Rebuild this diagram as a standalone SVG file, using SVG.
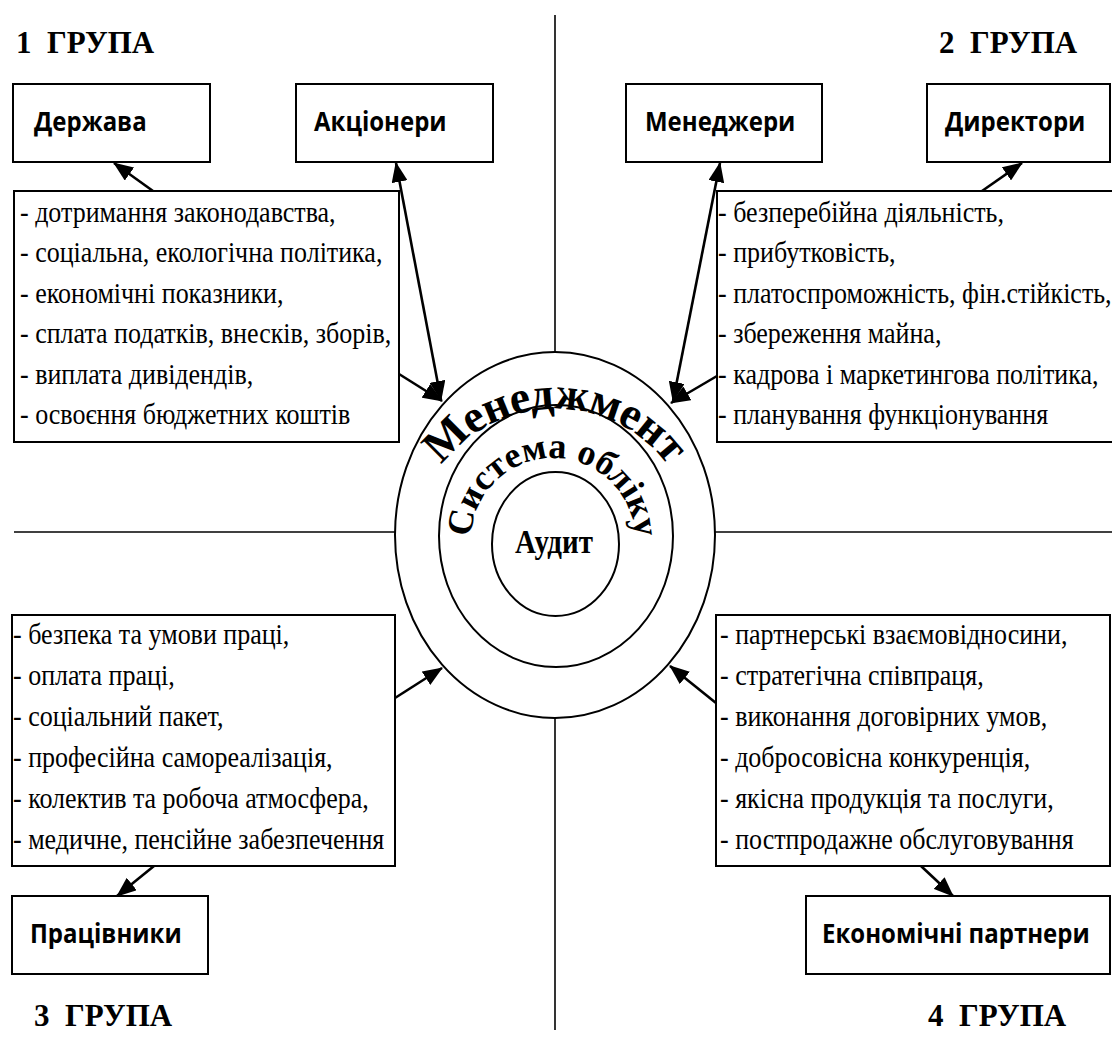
<svg xmlns="http://www.w3.org/2000/svg" width="1112" height="1039" viewBox="0 0 1112 1039">
  <defs>
    <style>
      .box { fill: #fff; stroke: #000; stroke-width: 2; }
      .ring { fill: none; stroke: #000; stroke-width: 2; }
      .axis { stroke: #000; stroke-width: 1.6; fill: none; }
      .arr { stroke: #000; stroke-width: 2.6; fill: none; marker-end: url(#ah); }
      .arr2 { marker-start: url(#ah); }
      .lbl { font-family: "Open Sans", "Liberation Sans", sans-serif; font-weight: 700; font-size: 24px; fill: #000; }
      .lst { font-family: "Liberation Serif", "Times New Roman", serif; font-size: 26px; fill: #000; }
      .grp { font-family: "Liberation Serif", "Times New Roman", serif; font-weight: 700; font-size: 31px; fill: #000; }
      .arc { font-family: "Liberation Serif", "Times New Roman", serif; font-weight: 700; fill: #000; }
    </style>
    <marker id="ah" viewBox="0 0 20 16" refX="19" refY="8" markerWidth="20" markerHeight="16" markerUnits="userSpaceOnUse" orient="auto-start-reverse">
      <path d="M0,0 L20,8 L0,16 z" fill="#000"/>
    </marker>
    <path id="arcOuter" d="M427.2,580.8 A136,128 0 1 1 682.8,580.8"/>
    <path id="arcInner" d="M475.9,568 A82,82 0 1 1 630.1,568"/>
  </defs>

  <rect width="1112" height="1039" fill="#fff"/>

  <!-- quadrant dividers -->
  <g id="axes">
    <line class="axis" x1="555" y1="15" x2="555" y2="1030"/>
    <line class="axis" x1="14" y1="532" x2="1112" y2="532"/>
  </g>

  <!-- nested rings in the centre -->
  <g id="core">
    <ellipse cx="555" cy="535" rx="160" ry="183" fill="#fff" stroke="#000" stroke-width="2"/>
    <ellipse class="ring" cx="556" cy="536" rx="117" ry="131"/>
    <ellipse class="ring" cx="555.5" cy="544" rx="63.5" ry="72"/>
    <text class="arc" font-size="46"><textPath href="#arcOuter" startOffset="50%" text-anchor="middle" textLength="262" lengthAdjust="spacing">Менеджмент</textPath></text>
    <text class="arc" font-size="36"><textPath href="#arcInner" startOffset="50%" text-anchor="middle" textLength="252" lengthAdjust="spacing">Система обліку</textPath></text>
    <text class="arc" font-size="29" text-anchor="middle" transform="translate(554,553) scale(1,1.15)">Аудит</text>
  </g>

  <!-- group headings -->
  <g id="headings">
    <text class="grp" x="16" y="53" xml:space="preserve">1  ГРУПА</text>
    <text class="grp" x="939" y="53" xml:space="preserve">2  ГРУПА</text>
    <text class="grp" x="34" y="1026" xml:space="preserve">3  ГРУПА</text>
    <text class="grp" x="928" y="1026" xml:space="preserve">4  ГРУПА</text>
  </g>

  <!-- group 1 -->
  <g id="derzhava">
    <rect class="box" x="13" y="84" width="197" height="78"/>
    <text class="lbl" transform="translate(34,131) scale(1,1.12)">Держава</text>
  </g>
  <g id="aktsionery">
    <rect class="box" x="296" y="84" width="197" height="78"/>
    <text class="lbl" transform="translate(314,131) scale(1,1.12)">Акціонери</text>
  </g>
  <g id="list1">
    <rect class="box" x="14" y="191" width="385" height="251"/>
    <text class="lst" transform="translate(20,222) scale(1,1.15)">
      <tspan x="0" y="0">- дотримання законодавства,</tspan>
      <tspan x="0" y="35.2">- соціальна, екологічна політика,</tspan>
      <tspan x="0" y="70.4">- економічні показники,</tspan>
      <tspan x="0" y="105.6">- сплата податків, внесків, зборів,</tspan>
      <tspan x="0" y="140.8">- виплата дивідендів,</tspan>
      <tspan x="0" y="176">- освоєння бюджетних коштів</tspan>
    </text>
  </g>

  <!-- group 2 -->
  <g id="menedzhery">
    <rect class="box" x="626" y="84" width="196" height="78"/>
    <text class="lbl" transform="translate(645,131) scale(1,1.12)">Менеджери</text>
  </g>
  <g id="dyrektory">
    <rect class="box" x="927" y="84" width="183" height="78"/>
    <text class="lbl" transform="translate(945,131) scale(1,1.12)">Директори</text>
  </g>
  <g id="list2">
    <rect class="box" x="717" y="191" width="410" height="251"/>
    <text class="lst" transform="translate(718,222) scale(1,1.15)">
      <tspan x="0" y="0">- безперебійна діяльність,</tspan>
      <tspan x="0" y="35.2">- прибутковість,</tspan>
      <tspan x="0" y="70.4">- платоспроможність, фін.стійкість,</tspan>
      <tspan x="0" y="105.6">- збереження майна,</tspan>
      <tspan x="0" y="140.8">- кадрова і маркетингова політика,</tspan>
      <tspan x="0" y="176">- планування функціонування</tspan>
    </text>
  </g>

  <!-- group 3 -->
  <g id="list3">
    <rect class="box" x="12" y="615" width="383" height="251"/>
    <text class="lst" transform="translate(13,644) scale(1,1.15)">
      <tspan x="0" y="0">- безпека та умови праці,</tspan>
      <tspan x="0" y="35.7">- оплата праці,</tspan>
      <tspan x="0" y="71.4">- соціальний пакет,</tspan>
      <tspan x="0" y="107.1">- професійна самореалізація,</tspan>
      <tspan x="0" y="142.8">- колектив та робоча атмосфера,</tspan>
      <tspan x="0" y="178.5">- медичне, пенсійне забезпечення</tspan>
    </text>
  </g>
  <g id="pratsivnyky">
    <rect class="box" x="12" y="896" width="196" height="78"/>
    <text class="lbl" transform="translate(30,943) scale(1,1.12)">Працівники</text>
  </g>

  <!-- group 4 -->
  <g id="list4">
    <rect class="box" x="716" y="615" width="394" height="251"/>
    <text class="lst" font-size="26.4" transform="translate(720,644) scale(1,1.15)">
      <tspan x="0" y="0">- партнерські взаємовідносини,</tspan>
      <tspan x="0" y="35.7">- стратегічна співпраця,</tspan>
      <tspan x="0" y="71.4">- виконання договірних умов,</tspan>
      <tspan x="0" y="107.1">- добросовісна конкуренція,</tspan>
      <tspan x="0" y="142.8">- якісна продукція та послуги,</tspan>
      <tspan x="0" y="178.5">- постпродажне обслуговування</tspan>
    </text>
  </g>
  <g id="partnery">
    <rect class="box" x="806" y="896" width="304" height="78"/>
    <text class="lbl" transform="translate(822,943) scale(1,1.12)">Економічні партнери</text>
  </g>

  <!-- connectors -->
  <g id="connectors">
    <line class="arr" x1="153" y1="191" x2="114" y2="163"/>
    <line class="arr arr2" x1="396" y1="163" x2="441" y2="400"/>
    <line class="arr" x1="399" y1="374" x2="442" y2="401"/>
    <line class="arr arr2" x1="720" y1="163" x2="673" y2="401"/>
    <line class="arr" x1="717" y1="376" x2="671" y2="403"/>
    <line class="arr" x1="982" y1="191" x2="1022" y2="163"/>
    <line class="arr" x1="395" y1="698" x2="442" y2="668"/>
    <line class="arr" x1="154" y1="866" x2="117" y2="896"/>
    <line class="arr" x1="716" y1="703" x2="670" y2="666"/>
    <line class="arr" x1="921" y1="866" x2="953" y2="896"/>
  </g>
</svg>
